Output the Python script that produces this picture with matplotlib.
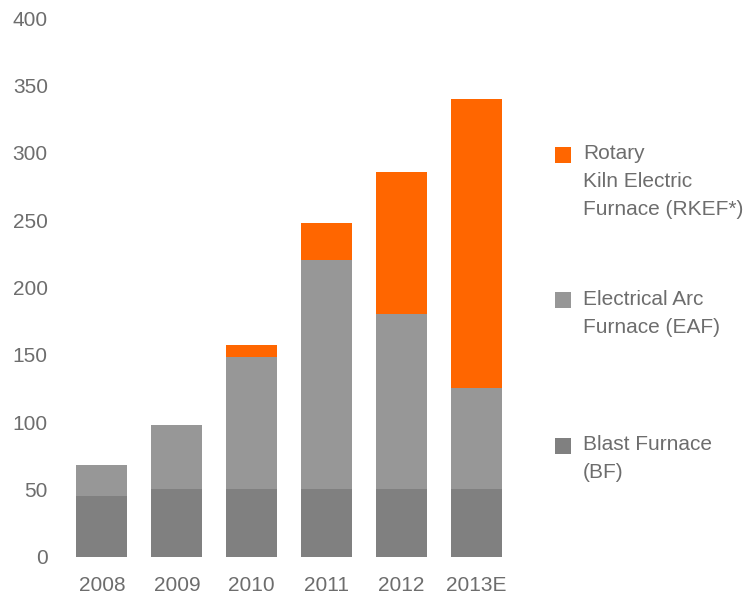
import matplotlib
matplotlib.use("Agg")
import matplotlib.pyplot as plt
from matplotlib.patches import Rectangle
import numpy as np

plt.rcParams['font.family'] = ['Liberation Sans', 'DejaVu Sans']

years = ["2008", "2009", "2010", "2011", "2012", "2013E"]
bf = [45, 50, 50, 50, 50, 50]
eaf = [23, 48, 98, 170, 130, 75]
rkef = [0, 0, 9, 28, 106, 215]

series_labels = ["Rotary\nKiln Electric\nFurnace (RKEF*)",
                 "Electrical Arc\nFurnace (EAF)",
                 "Blast Furnace\n(BF)"]
colors = {"rkef": "#FF6600", "eaf": "#979797", "bf": "#808080"}
text_color = "#6d6d6d"

W, H = 748, 598
fig = plt.figure(figsize=(W / 100, H / 100), dpi=100)
ax = fig.add_axes([64.5 / W, 1 - 556.7 / H, (514 - 64.5) / W, (556.7 - 18) / H])

x = np.arange(len(years))
width = 0.68
bf_arr = np.array(bf)
eaf_arr = np.array(eaf)
rkef_arr = np.array(rkef)
ax.bar(x, bf_arr, width, color=colors["bf"], linewidth=0)
ax.bar(x, eaf_arr, width, bottom=bf_arr, color=colors["eaf"], linewidth=0)
ax.bar(x, rkef_arr, width, bottom=bf_arr + eaf_arr, color=colors["rkef"], linewidth=0)

ax.set_xlim(-0.5, len(years) - 0.5)
ax.set_ylim(0, 400)
ax.set_yticks(range(0, 401, 50))
ax.set_xticks(x)
ax.set_xticklabels(years)
for s in ax.spines.values():
    s.set_visible(False)
ax.tick_params(axis='both', length=0, labelsize=15, colors=text_color)
ax.tick_params(axis='y', pad=12)
ax.tick_params(axis='x', pad=14)

# legend drawn by hand: square marker plus wrapped label
# (square centre, baseline of the label's last line), in pixels from the top
legend_rows = [
    (colors["rkef"], series_labels[0], 155, 215),
    (colors["eaf"], series_labels[1], 300, 333),
    (colors["bf"], series_labels[2], 446, 478),
]
for col, label, yc, ybase in legend_rows:
    fig.patches.append(Rectangle((555 / W, 1 - (yc + 8) / H), 16 / W, 16 / H,
                                 transform=fig.transFigure, color=col, lw=0))
    fig.text(583 / W, 1 - ybase / H, label, fontsize=15, color=text_color,
             va='baseline', ha='left', linespacing=1.6)

fig.savefig("out.png", dpi=100)
